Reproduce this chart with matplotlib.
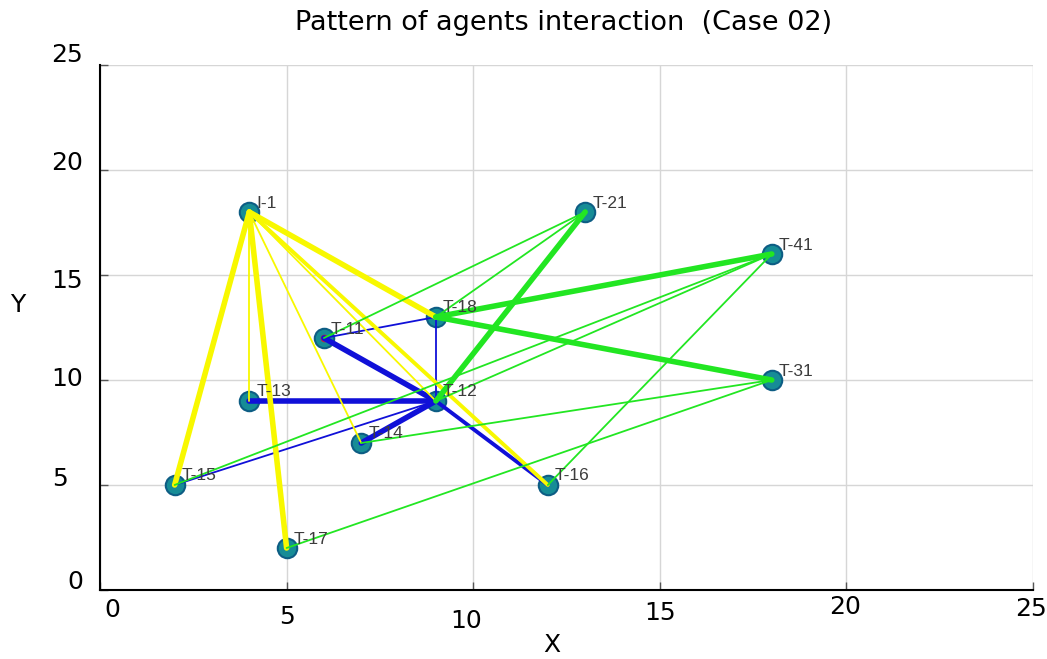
import matplotlib
matplotlib.use("Agg")
import matplotlib.pyplot as plt

# Agent positions
agent_names = ["I-1", "T-11", "T-12", "T-13", "T-14", "T-15", "T-16", "T-17",
               "T-18", "T-21", "T-41", "T-31"]
agent_x = [4, 6, 9, 4, 7, 2, 12, 5, 9, 13, 18, 18]
agent_y = [18, 12, 9, 9, 7, 5, 5, 2, 13, 18, 16, 10]

# Interactions: (from, to, strength) with strength 1 = weak, 2 = medium, 3 = strong
blue_links = [("T-11", "T-12", 3), ("T-13", "T-12", 3), ("T-14", "T-12", 3),
              ("T-16", "T-12", 2), ("T-15", "T-12", 1), ("T-11", "T-18", 1),
              ("T-18", "T-12", 1)]
yellow_links = [("I-1", "T-15", 3), ("I-1", "T-17", 3), ("I-1", "T-13", 1),
                ("I-1", "T-14", 1), ("I-1", "T-12", 1), ("I-1", "T-16", 2),
                ("I-1", "T-18", 3)]
green_links = [("T-21", "T-12", 3), ("T-18", "T-41", 3), ("T-18", "T-31", 3),
               ("T-11", "T-21", 1), ("T-18", "T-21", 1), ("T-12", "T-41", 1),
               ("T-15", "T-41", 1), ("T-16", "T-41", 1), ("T-14", "T-31", 1),
               ("T-17", "T-31", 1)]

x_ticks = [0, 5, 10, 15, 20, 25]
y_ticks = [0, 5, 10, 15, 20, 25]

pos = {n: (x, y) for n, x, y in zip(agent_names, agent_x, agent_y)}
width_of = {1: 1.3, 2: 2.8, 3: 4.0}

fig = plt.figure(figsize=(10.47, 6.59), dpi=100)
ax = fig.add_axes([100 / 1047, 69 / 659, 933 / 1047, 525 / 659])
ax.set_xlim(0, 25)
ax.set_ylim(0, 25)

ax.set_xticks(x_ticks)
ax.set_yticks(y_ticks)
ax.set_xticklabels([])
ax.set_yticklabels([])
ax.grid(True, color="#d6d6d6", linewidth=1.0, zorder=0)
ax.set_axisbelow(True)
ax.tick_params(direction="in", length=6, width=1.0, color="#555555")
for side in ("top", "right"):
    ax.spines[side].set_visible(False)
for side in ("left", "bottom"):
    ax.spines[side].set_linewidth(1.5)
    ax.spines[side].set_color("black")

# Nodes
ax.plot(agent_x, agent_y, linestyle="none", marker="o", markersize=14,
        markerfacecolor="#168c96", markeredgecolor="#0d5d84",
        markeredgewidth=1.5, zorder=2, clip_on=False)
ax.plot([pos["T-11"][0]], [pos["T-11"][1]], linestyle="none", marker="o",
        markersize=4.5, color="#c0203a", zorder=2.5)


def draw_links(links, color, z):
    for a, b, s in links:
        (x0, y0), (x1, y1) = pos[a], pos[b]
        ax.plot([x0, x1], [y0, y1], color=color, linewidth=width_of[s],
                solid_capstyle="round", zorder=z)


draw_links(blue_links, "#1010d8", 3)
draw_links(yellow_links, "#f8f800", 3.2)
draw_links(green_links, "#22e622", 3.4)

for n, x, y in zip(agent_names, agent_x, agent_y):
    ax.annotate(n, xy=(x, y), xytext=(7, 9), textcoords="offset pixels",
                ha="left", va="center", fontsize=12.5, color="#3c3c3c",
                family=["Liberation Sans", "DejaVu Sans"], zorder=5)

# Tick labels with their own offsets (pixels)
x_off = [(12, -20), (0, -27), (-7, -31), (0, -23), (-1, -17), (-2, -19)]
for v, (dx, dy) in zip(x_ticks, x_off):
    ax.annotate(str(v), xy=(v, 0), xycoords=ax.get_xaxis_transform(),
                xytext=(dx, dy), textcoords="offset pixels",
                ha="center", va="center", fontsize=18, annotation_clip=False)

y_off = [(-17, 8), (-32, 6), (-17, 1), (-17, -6), (-17, 7), (-17, 10)]
for v, (dx, dy) in zip(y_ticks, y_off):
    ax.annotate(str(v), xy=(0, v), xycoords=ax.get_yaxis_transform(),
                xytext=(dx, dy), textcoords="offset pixels",
                ha="right", va="center", fontsize=18, annotation_clip=False)

fig.text(552 / 1047, 1 - 645 / 659, "X", ha="center", va="center", fontsize=18)
fig.text(18 / 1047, 1 - 305 / 659, "Y", ha="center", va="center", fontsize=18)
fig.text(564 / 1047, 1 - 23 / 659, "Pattern of agents interaction  (Case 02)",
         ha="center", va="center", fontsize=19.5)

fig.savefig("out.png", dpi=100)
